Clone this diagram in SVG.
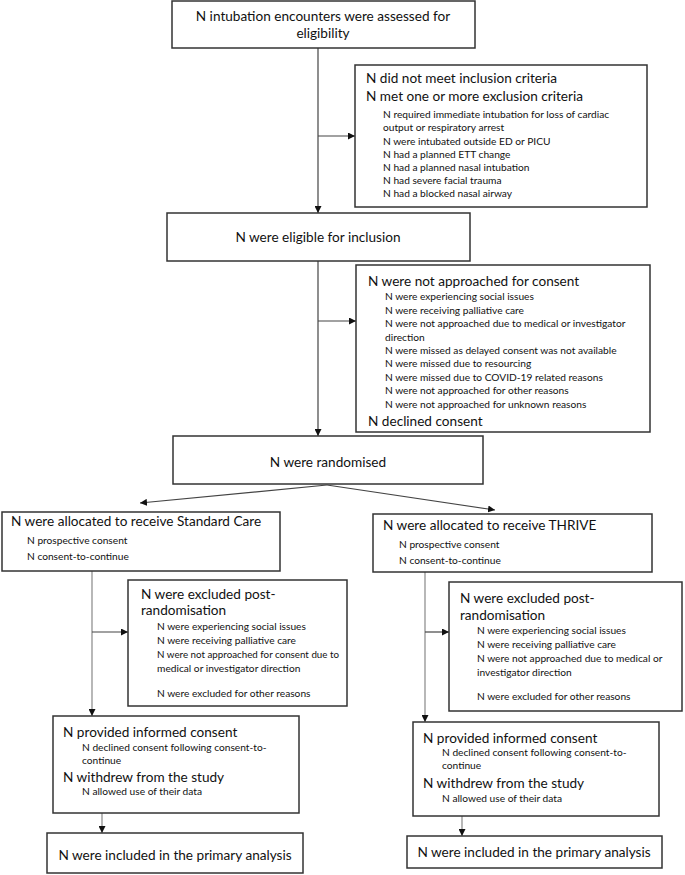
<svg xmlns="http://www.w3.org/2000/svg" width="685" height="875" viewBox="0 0 685 875">
<defs>
<marker id="ah" viewBox="0 0 10 10" refX="10" refY="5" markerWidth="7" markerHeight="7" markerUnits="userSpaceOnUse" orient="auto"><path d="M0,0 L10,5 L0,10 z" fill="#111"/></marker>
</defs>
<style>
.box{fill:#fff;stroke:#333;stroke-width:1.5}
.big{font-family:Lato,"Liberation Sans",sans-serif;font-size:13.6px;fill:#111}
.sm{font-family:Lato,"Liberation Sans",sans-serif;font-size:10.2px;fill:#111}
.c{text-anchor:middle}
.ln{fill:none;stroke:#444;stroke-width:1.2;marker-end:url(#ah)}
.lg{fill:none;stroke:#888;stroke-width:1.2;marker-end:url(#ah)}
</style>
<rect width="685" height="875" fill="#fff"/>
<g id="connectors">
<path class="ln" d="M318,48 V213"/>
<path class="ln" d="M318,136 H355"/>
<path class="ln" d="M318,261 V436"/>
<path class="ln" d="M318,321 H356"/>
<path class="ln" d="M327,485 L140,503"/>
<path class="ln" d="M327,485 L495,510"/>
<path class="lg" d="M92,571 V716"/>
<path class="ln" d="M92,632 H128"/>
<path class="lg" d="M102,813 V833"/>
<path class="lg" d="M425,572 V722"/>
<path class="ln" d="M425,632 H449"/>
<path class="lg" d="M462,816 V836"/>
</g>
<g id="assessed">
<rect class="box" x="172" y="1" width="303" height="47"/>
<text class="big c" x="323" y="21">N intubation encounters were assessed for</text>
<text class="big c" x="323" y="38">eligibility</text>
</g>
<g id="excluded">
<rect class="box" x="355" y="65" width="292" height="142"/>
<text class="big" x="366" y="83">N did not meet inclusion criteria</text>
<text class="big" x="366" y="101">N met one or more exclusion criteria</text>
<text class="sm" x="383" y="118">N required immediate intubation for loss of cardiac</text>
<text class="sm" x="383" y="131">output or respiratory arrest</text>
<text class="sm" x="383" y="145">N were intubated outside ED or PICU</text>
<text class="sm" x="383" y="158">N had a planned ETT change</text>
<text class="sm" x="383" y="171">N had a planned nasal intubation</text>
<text class="sm" x="383" y="184">N had severe facial trauma</text>
<text class="sm" x="383" y="197">N had a blocked nasal airway</text>
</g>
<g id="eligible">
<rect class="box" x="167" y="213" width="303" height="48"/>
<text class="big c" x="318" y="242">N were eligible for inclusion</text>
</g>
<g id="notapproached">
<rect class="box" x="356" y="265" width="294" height="167"/>
<text class="big" x="368" y="286">N were not approached for consent</text>
<text class="sm" x="385" y="300">N were experiencing social issues</text>
<text class="sm" x="385" y="314">N were receiving palliative care</text>
<text class="sm" x="385" y="327">N were not approached due to medical or investigator</text>
<text class="sm" x="385" y="341">direction</text>
<text class="sm" x="385" y="354">N were missed as delayed consent was not available</text>
<text class="sm" x="385" y="367">N were missed due to resourcing</text>
<text class="sm" x="385" y="381">N were missed due to COVID-19 related reasons</text>
<text class="sm" x="385" y="394">N were not approached for other reasons</text>
<text class="sm" x="385" y="408">N were not approached for unknown reasons</text>
<text class="big" x="368" y="426">N declined consent</text>
</g>
<g id="randomised">
<rect class="box" x="173" y="436" width="310" height="48"/>
<text class="big c" x="328" y="467">N were randomised</text>
</g>
<g id="alloc-standard">
<rect class="box" x="2" y="512" width="278" height="59"/>
<text class="big" x="11" y="526">N were allocated to receive Standard Care</text>
<text class="sm" x="27" y="544">N prospective consent</text>
<text class="sm" x="27" y="560">N consent-to-continue</text>
</g>
<g id="alloc-thrive">
<rect class="box" x="373" y="514" width="279" height="58"/>
<text class="big" x="383" y="530">N were allocated to receive THRIVE</text>
<text class="sm" x="399" y="548">N prospective consent</text>
<text class="sm" x="399" y="564">N consent-to-continue</text>
</g>
<g id="postrand-standard">
<rect class="box" x="128" y="580" width="219" height="126"/>
<text class="big" x="141" y="599">N were excluded post-</text>
<text class="big" x="141" y="615">randomisation</text>
<text class="sm" x="157" y="630">N were experiencing social issues</text>
<text class="sm" x="157" y="644">N were receiving palliative care</text>
<text class="sm" x="157" y="658" textLength="182" lengthAdjust="spacingAndGlyphs">N were not approached for consent due to</text>
<text class="sm" x="157" y="672">medical or investigator direction</text>
<text class="sm" x="157" y="697">N were excluded for other reasons</text>
</g>
<g id="postrand-thrive">
<rect class="box" x="449" y="582" width="233" height="129"/>
<text class="big" x="460" y="603">N were excluded post-</text>
<text class="big" x="460" y="620">randomisation</text>
<text class="sm" x="477" y="634">N were experiencing social issues</text>
<text class="sm" x="477" y="648">N were receiving palliative care</text>
<text class="sm" x="477" y="662">N were not approached due to medical or</text>
<text class="sm" x="477" y="676">investigator direction</text>
<text class="sm" x="477" y="700">N were excluded for other reasons</text>
</g>
<g id="consent-standard">
<rect class="box" x="53" y="716" width="246" height="97"/>
<text class="big" x="63" y="737">N provided informed consent</text>
<text class="sm" x="82" y="751">N declined consent following consent-to-</text>
<text class="sm" x="82" y="764">continue</text>
<text class="big" x="63" y="782">N withdrew from the study</text>
<text class="sm" x="82" y="795">N allowed use of their data</text>
</g>
<g id="consent-thrive">
<rect class="box" x="413" y="722" width="246" height="94"/>
<text class="big" x="423" y="743">N provided informed consent</text>
<text class="sm" x="442" y="756">N declined consent following consent-to-</text>
<text class="sm" x="442" y="769">continue</text>
<text class="big" x="423" y="788">N withdrew from the study</text>
<text class="sm" x="442" y="802">N allowed use of their data</text>
</g>
<g id="analysis-standard">
<rect class="box" x="47" y="833" width="256" height="40"/>
<text class="big c" x="175" y="860">N were included in the primary analysis</text>
</g>
<g id="analysis-thrive">
<rect class="box" x="407" y="836" width="255" height="32"/>
<text class="big c" x="534" y="857">N were included in the primary analysis</text>
</g>
</svg>
